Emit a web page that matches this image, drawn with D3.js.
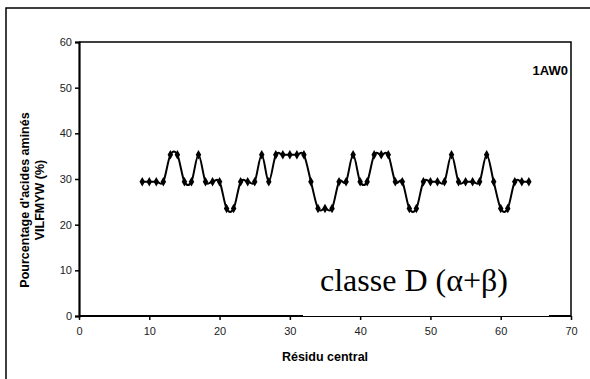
<!DOCTYPE html>
<html>
<head>
<meta charset="utf-8">
<script src="https://cdn.jsdelivr.net/npm/d3@7"></script>
<style>
  html, body { margin: 0; padding: 0; background: #fff; }
  svg { display: block; }
</style>
</head>
<body>
<svg id="chart" width="590" height="379"></svg>
<script>
// Central residue of each 17-residue window
const residues = [9, 10, 11, 12, 13, 14, 15, 16, 17, 18, 19, 20, 21, 22, 23, 24, 25, 26, 27, 28,
                  29, 30, 31, 32, 33, 34, 35, 36, 37, 38, 39, 40, 41, 42, 43, 44, 45, 46, 47, 48,
                  49, 50, 51, 52, 53, 54, 55, 56, 57, 58, 59, 60, 61, 62, 63, 64];
// Percentage of VILFMYW residues in the window
const percent = [29.41, 29.41, 29.41, 29.41, 35.29, 35.29, 29.41, 29.41, 35.29, 29.41,
                 29.41, 29.41, 23.53, 23.53, 29.41, 29.41, 29.41, 35.29, 29.41, 35.29,
                 35.29, 35.29, 35.29, 35.29, 29.41, 23.53, 23.53, 23.53, 29.41, 29.41,
                 35.29, 29.41, 29.41, 35.29, 35.29, 35.29, 29.41, 29.41, 23.53, 23.53,
                 29.41, 29.41, 29.41, 29.41, 35.29, 29.41, 29.41, 29.41, 29.41, 35.29,
                 29.41, 23.53, 23.53, 29.41, 29.41, 29.41];
const xTicks = [0, 10, 20, 30, 40, 50, 60, 70];
const yTicks = [0, 10, 20, 30, 40, 50, 60];

const SANS = "'Liberation Sans', Arial, sans-serif";
const SERIF = "'Liberation Serif', 'Times New Roman', serif";

const svg = d3.select("#chart");
const plotL = 79, plotR = 571, plotT = 42, plotB = 316;

const x = d3.scaleLinear().domain([0, 70]).range([plotL, plotR]);
const y = d3.scaleLinear().domain([0, 60]).range([plotB, plotT]);

// outer chart frame
svg.append("rect").attr("x", 6).attr("y", 8).attr("width", 700).attr("height", 500)
  .attr("fill", "none").attr("stroke", "#000").attr("stroke-width", 1.5);

// plot area border (top and right)
svg.append("path")
  .attr("d", `M${plotL},${plotT}H${plotR}V${plotB}`)
  .attr("fill", "none").attr("stroke", "#000").attr("stroke-width", 1.5);

// axes
const xAxis = d3.axisBottom(x).tickValues(xTicks).tickSize(4).tickPadding(7);
const yAxis = d3.axisLeft(y).tickValues(yTicks).tickSize(4).tickPadding(3);

const gx = svg.append("g").attr("transform", `translate(0,${plotB})`).call(xAxis);
const gy = svg.append("g").attr("transform", `translate(${plotL},0)`).call(yAxis);
[gx, gy].forEach(g => {
  g.select(".domain").attr("stroke", "#000").attr("stroke-width", 1);
  g.selectAll(".tick line").attr("stroke", "#000").attr("stroke-width", 1.5);
  g.selectAll(".tick text").style("font-size", "11px").style("fill", "#222")
    .style("font-family", SANS);
});
gy.select(".domain").attr("stroke-width", 2.2);

// heavier bottom frame segments on either side of the label box
svg.append("path")
  .attr("d", `M${plotL},${plotB}H${303}M${549},${plotB}H${plotR}`)
  .attr("stroke", "#000").attr("stroke-width", 2.2);

// series
const pts = residues.map((r, i) => [r, percent[i]]);
const line = d3.line().x(d => x(d[0])).y(d => y(d[1])).curve(d3.curveCatmullRom.alpha(0));
svg.append("path").datum(pts).attr("d", line)
  .attr("fill", "none").attr("stroke", "#000").attr("stroke-width", 2);

const diamond = d3.symbol().type(d3.symbolDiamond).size(26);
svg.append("g").selectAll("path").data(pts).join("path")
  .attr("d", diamond)
  .attr("transform", d => `translate(${x(d[0])},${y(d[1])})`)
  .attr("fill", "#000");

// axis titles
svg.append("text").attr("x", (plotL + plotR) / 2).attr("y", 361)
  .attr("text-anchor", "middle")
  .style("font-family", SANS).style("font-size", "12.5px").style("font-weight", "bold")
  .text("Résidu central");

const yt = svg.append("text")
  .attr("transform", `translate(29,${(plotT + plotB) / 2 + 21}) rotate(-90)`)
  .attr("text-anchor", "middle")
  .style("font-family", SANS).style("font-size", "12.5px").style("font-weight", "bold");
yt.append("tspan").attr("x", 0).attr("dy", 0).text("Pourcentage d'acides aminés");
yt.append("tspan").attr("x", 0).attr("dy", 15).text("VILFMYW (%)");

// annotations
svg.append("text").attr("x", 568).attr("y", 75).attr("text-anchor", "end")
  .style("font-family", SANS).style("font-size", "13px").style("font-weight", "bold")
  .text("1AW0");

svg.append("text").attr("x", 320).attr("y", 291)
  .style("font-family", SERIF).style("font-size", "32px")
  .text("classe D (α+β)");
</script>
</body>
</html>
